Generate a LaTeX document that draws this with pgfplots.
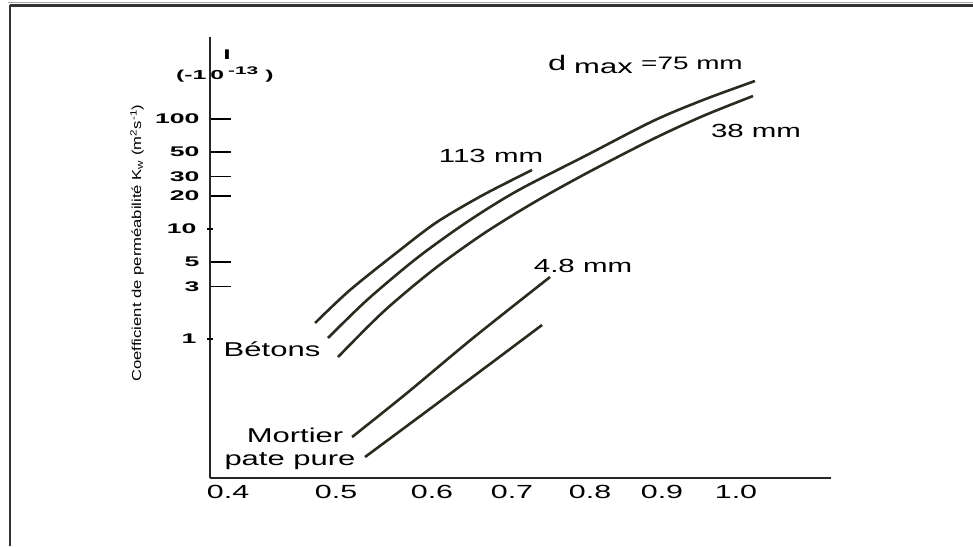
\documentclass[border=0pt]{standalone}
\usepackage{fontspec}
\setmainfont{Liberation Sans}
\usepackage{pgfplots}
\pgfplotsset{compat=1.18}
\newfontfamily\labfont{Liberation Sans}[FakeStretch=1.55]
\newfontfamily\xtfont{Liberation Sans}[FakeStretch=1.6]
\newfontfamily\ytfont{Liberation Sans}[FakeStretch=1.9]
\newfontfamily\ylfont{Liberation Sans}[FakeStretch=1.28]
\definecolor{curve}{HTML}{2B2B1F}
\begin{document}
\begin{tikzpicture}[x=1pt,y=1pt]
\path[use as bounding box] (0,0) rectangle (973,546);
\draw[black!35, line width=1pt] (8,543) -- (973,543);
\draw[black!80, line width=2.2pt] (10,540.5) -- (973,540.5);
\draw[black!80, line width=2.2pt] (10,540.5) -- (10,0);
\begin{axis}[
  at={(210pt,68pt)}, anchor=south west, scale only axis,
  width=621pt, height=441pt,
  ymode=log,
  xmin=0.3787, xmax=1.1122, ymin=0.05452, ymax=556.6,
  axis x line=bottom, axis y line=left,
  axis line style={-, line width=1.8pt, black!85},
  xtick={0.4,0.5276,0.6409,0.7354,0.8276,0.9126,1.0},
  xticklabels={0.4,0.5,0.6,0.7,0.8,0.9,1.0},
  x tick style={draw=none},
  x tick label style={font=\xtfont\fontsize{19}{22}\selectfont, yshift=-4pt},
  ytick={3,5,20,30,50,100},
  yticklabels={3,5,20,30,50,100},
  y tick style={line width=1.3pt, black},
  major tick length=21pt, tick align=inside,
  yminorticks=false,
  extra y ticks={1,10},
  extra y tick labels={1,10},
  extra y tick style={major tick length=6pt, tick align=center},
  y tick label style={font=\ytfont\bfseries\fontsize{14}{16}\selectfont, xshift=-7pt},
  clip=false,
]
% d_max = 113 mm
\addplot[smooth, line width=2.6pt, color=curve] coordinates {
 (0.5028,1.398) (0.5441,2.790) (0.6031,6.444) (0.6469,11.58) (0.7012,20.38) (0.7591,34.39)};
% 75 mm
\addplot[smooth, line width=2.6pt, color=curve] coordinates {
 (0.5181,1.021) (0.5642,2.262) (0.6232,5.448) (0.6823,11.58) (0.7413,22.16) (0.8240,47.07) (0.9020,95.9) (0.9610,148.8) (1.0224,221.6)};
% 38 mm
\addplot[smooth, line width=2.6pt, color=curve] coordinates {
 (0.5299,0.686) (0.5831,1.760) (0.6421,4.240) (0.7012,9.006) (0.7602,17.23) (0.8240,32.30) (0.9020,65.79) (0.9610,106.5) (1.0201,161.8)};
% Mortier 4.8 mm
\addplot[smooth, line width=2.6pt, color=curve] coordinates {
 (0.5465,0.1285) (0.6114,0.3229) (0.6894,1.021) (0.7803,3.661)};
% pate pure
\addplot[smooth, line width=2.6pt, color=curve] coordinates {
 (0.5618,0.0846) (0.6303,0.2081) (0.7094,0.5926) (0.7709,1.341)};
\end{axis}
\node[anchor=base west, inner sep=0pt, font=\labfont\fontsize{21}{24}\selectfont] at (548,475) {d};
\node[anchor=base west, inner sep=0pt, font=\labfont\fontsize{20}{24}\selectfont] at (574,472) {max};
\node[anchor=base west, inner sep=0pt, font=\labfont\fontsize{18}{22}\selectfont] at (641,476) {=75 mm};
\node[anchor=base, inner sep=0pt, font=\labfont\fontsize{19}{22}\selectfont] at (491,383) {113 mm};
\node[anchor=base, inner sep=0pt, font=\labfont\fontsize{19}{22}\selectfont] at (756,408) {38 mm};
\node[anchor=base, inner sep=0pt, font=\labfont\fontsize{19}{22}\selectfont] at (583,273) {4.8 mm};
\node[anchor=base, inner sep=0pt, font=\labfont\fontsize{20}{22}\selectfont] at (272,189) {Bétons};
\node[anchor=base, inner sep=0pt, font=\labfont\fontsize{20}{22}\selectfont] at (295,104) {Mortier};
\node[anchor=base, inner sep=0pt, font=\labfont\fontsize{20}{22}\selectfont] at (290,81) {pate pure};
\node[anchor=base west, inner sep=0pt, font=\ytfont\bfseries\fontsize{13}{15}\selectfont] at (176,466) {(-1\hspace{4pt}0\hspace{4pt}\raisebox{5pt}{\fontsize{11}{12}\selectfont -13}\hspace{7pt})};
\node[anchor=center, inner sep=0pt, font=\ytfont\bfseries\fontsize{14}{16}\selectfont] at (227,491) {I};
\node[rotate=90, anchor=center, inner sep=0pt, font=\ylfont\fontsize{13}{15}\selectfont] at (137,303) {Coefficient de perméabilité K\textsubscript{w} (m\textsuperscript{2}s\textsuperscript{-1})};
\end{tikzpicture}
\end{document}
